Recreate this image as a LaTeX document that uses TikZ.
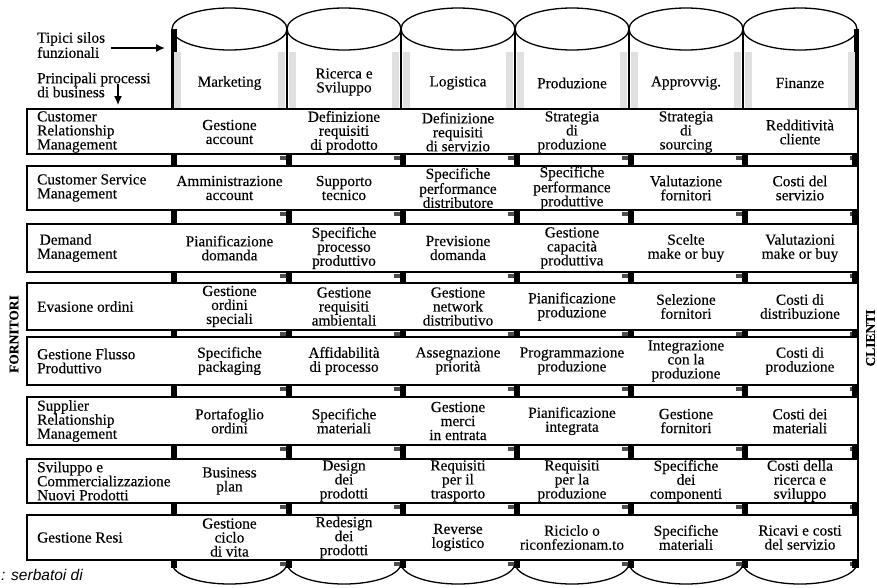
\documentclass[tikz,border=0pt]{standalone}
\usepackage{fontspec}
\setmainfont[FakeBold=0.25]{Liberation Serif}
\newfontfamily\notesans{Liberation Sans}
\usetikzlibrary{arrows.meta}

% one process row: index, centre y, label, six cells
\newcommand\procrow[9]{%
  \node[rowlabel] (r#1l)  at (37,#2)    {#3};
  \node[cell]     (r#1c1) at (229.5,#2) {#4};
  \node[cell]     (r#1c2) at (344,#2)   {#5};
  \node[cell]     (r#1c3) at (458,#2)   {#6};
  \node[cell]     (r#1c4) at (572,#2)   {#7};
  \node[cell]     (r#1c5) at (686,#2)   {#8};
  \node[cell]     (r#1c6) at (800,#2)   {#9};
}

\begin{document}
\begin{tikzpicture}[x=1pt,y=-1pt,
  txt/.style={inner sep=0pt,font=\fontsize{15.3}{14}\selectfont},
  cell/.style={txt,align=center},
  rowlabel/.style={txt,align=left,anchor=west},
  rowbox/.style={draw=black,fill=white,line width=1.3pt},
  silo/.style={draw=black,line width=1.3pt},
  side/.style={fill=black},
  pointer/.style={line width=1.3pt,-{Latex[length=9pt,width=8pt]}},
  actor/.style={inner sep=0pt,rotate=90,font=\fontsize{13.5}{14}\selectfont\bfseries}]
\useasboundingbox (0,0) rectangle (877,587);

% ---- functional silos (cylinders) ----
\foreach \a/\b in {172/287,287/401,401/515,515/629,629/743,743/857}{
  \draw[silo] ({(\a+\b)/2},29) ellipse [x radius={(\b-\a)/2*1pt}, y radius=21pt];
  \draw[silo] (\a,563) arc [start angle=180,end angle=360,x radius={(\b-\a)/2*1pt},y radius=21pt];
}
\foreach \e in {172,287,401,515,629,743,857}
  \draw[silo] (\e,29) -- (\e,563);
% shaded outer sides
\fill[side] (172,29) rectangle (177,566);
\fill[side] (854,29) rectangle (858.5,566);
\foreach \e in {287,401,515,629,743}
  \fill[side] (\e-0.8,50) rectangle (\e+1.2,109);
% light stipple along the silo walls
\foreach \e in {172,287,401,515,629,743}
  \fill[black!12] (\e+2,52) rectangle (\e+9,108);
\foreach \e in {287,401,515,629,743,857}
  \fill[black!12] (\e-9,52) rectangle (\e-2,108);

% dark side marks visible between the process bands
\foreach \t/\b in {154/166,210/224,272/283,330/337,385/397,445/459,503/515,560/568}{
  \foreach \e in {172,287,401,515,629,743}{
    \fill[side] (\e-0.6,\t) rectangle (\e+5,\b);
  }
  \foreach \e in {287,401,515,629,743,857}{
    \fill[black!70] (\e-7,\t+2) rectangle (\e-1,\t+6);
  }
  \fill[side] (852,\t) rectangle (858.5,\b);
}

% ---- silo names ----
\node[cell] (s1) at (229.5,83) {Marketing};
\node[cell] (s2) at (344,82)   {Ricerca e\\Sviluppo};
\node[cell] (s3) at (458,83)   {Logistica};
\node[cell] (s4) at (572,83)   {Produzione};
\node[cell] (s5) at (686,83)   {Approvvig.};
\node[cell] (s6) at (800,83)   {Finanze};

% ---- process bands ----
\foreach \t/\b in {109/154,166/210,224/272,283/330,337/385,397/445,459/503,515/560}
  \draw[rowbox] (27,\t) rectangle (857.5,\b);

\procrow{1}{132}{Customer\\Relationship\\Management}
  {Gestione\\account}{Definizione\\requisiti\\di prodotto}{Definizione\\requisiti\\di servizio}
  {Strategia\\di\\produzione}{Strategia\\di\\sourcing}{Redditività\\cliente}
\procrow{2}{188}{Customer Service\\Management}
  {Amministrazione\\account}{Supporto\\tecnico}{Specifiche\\performance\\distributore}
  {Specifiche\\performance\\produttive}{Valutazione\\fornitori}{Costi del\\servizio}
\procrow{3}{248}{\,Demand\\Management}
  {Pianificazione\\domanda}{Specifiche\\processo\\produttivo}{Previsione\\domanda}
  {Gestione\\capacità\\produttiva}{Scelte\\make or buy}{Valutazioni\\make or buy}
\procrow{4}{306.5}{Evasione ordini}
  {Gestione\\ordini\\speciali}{Gestione\\requisiti\\ambientali}{Gestione\\network\\distributivo}
  {Pianificazione\\produzione}{Selezione\\fornitori}{Costi di\\distribuzione}
\procrow{5}{361}{Gestione Flusso\\Produttivo}
  {Specifiche\\packaging}{Affidabilità\\di processo}{Assegnazione\\priorità}
  {Programmazione\\produzione}{Integrazione\\con la\\produzione}{Costi di\\produzione}
\procrow{6}{421}{Supplier\\Relationship\\Management}
  {Portafoglio\\ordini}{Specifiche\\materiali}{Gestione\\merci\\in entrata}
  {Pianificazione\\integrata}{Gestione\\fornitori}{Costi dei\\materiali}
\procrow{7}{481}{Sviluppo e\\Commercializzazione\\Nuovi Prodotti}
  {Business\\plan}{Design\\dei\\prodotti}{Requisiti\\per il\\trasporto}
  {Requisiti\\per la\\produzione}{Specifiche\\dei\\componenti}{Costi della\\ricerca e\\sviluppo}
\procrow{8}{537.5}{Gestione Resi}
  {Gestione\\ciclo\\di vita}{Redesign\\dei\\prodotti}{Reverse\\logistico}
  {Riciclo o\\riconfezionam.to}{Specifiche\\materiali}{Ricavi e costi\\del servizio}

% ---- legend pointers ----
\node[txt,align=left,anchor=west] (silonote) at (37,45) {Tipici silos\\funzionali};
\node[txt,align=left,anchor=west] (procnote) at (37,85) {Principali processi\\di business};
\coordinate (silostart) at (111,48);
\coordinate (silotip) at (165,48);
\coordinate (procstart) at (118,84);
\coordinate (proctip) at (118,105);
\draw[pointer] (silostart) -- (silotip);
\draw[pointer] (procstart) -- (proctip);

% ---- suppliers and customers ----
\node[actor] (forn) at (14,334) {FORNITORI};
\node[actor] (cli) at (870.5,338) {CLIENTI};

% ---- caption fragment ----
\node[inner sep=0pt,anchor=base west,font=\notesans\itshape\fontsize{15.5}{16}\selectfont] (capt) at (1,580) {: serbatoi di};
\end{tikzpicture}
\end{document}
